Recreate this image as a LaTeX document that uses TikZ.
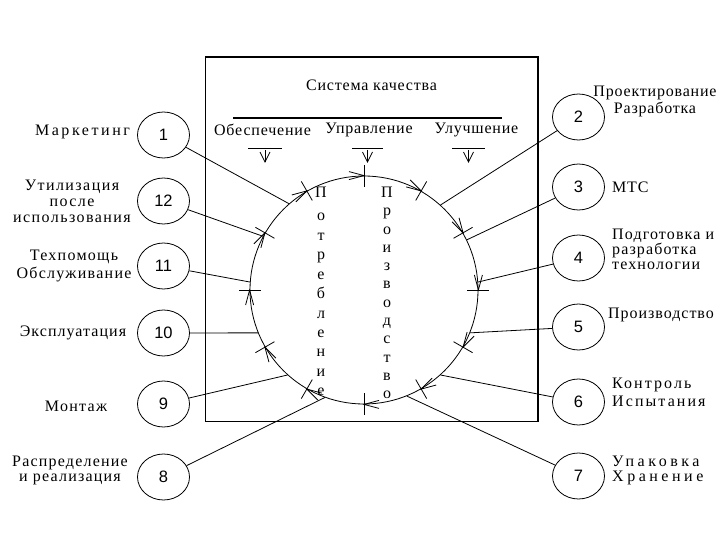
\documentclass[tikz,border=0pt]{standalone}
\usepackage{fontspec}
\setmainfont[LetterSpace=5]{Liberation Serif}
\newfontfamily\numfont{Liberation Sans}
\usetikzlibrary{shapes.geometric}
\begin{document}
\begin{tikzpicture}[x=1pt,y=-1pt,
  thinline/.style={line width=0.8pt},
  numcirc/.style={draw, ellipse, minimum width=52pt, minimum height=46pt, inner sep=0pt, line width=0.8pt, font=\numfont\fontsize{16.5}{16}\selectfont},
  lbl/.style={font=\fontsize{16}{16}\selectfont, align=center, inner sep=0pt},
  lsl/.style 2 args={lbl, font={\fontsize{16}{#1}\selectfont\addfontfeatures{LetterSpace=#2}}},
  rlbl/.style={lbl, align=left, anchor=west},
  vlet/.style={font=\fontsize{16}{16}\selectfont, inner sep=0pt, anchor=base},
]
\useasboundingbox (0,0) rectangle (720,540);
\fill[white] (0,0) rectangle (720,540);
% frame
\draw[line width=1.2pt] (205.5,57) rectangle (538,421.5);
% big circle
\node[draw, circle, minimum size=228pt, inner sep=0pt, thinline] (C) at (364,290) {};
\foreach \a in {90,60,30,0,330,300,270,240,210,180,150,120} {
  \begin{scope}[shift={(C.\a)}, rotate=\a]
    \draw[thinline] (-11pt,0pt) -- (11pt,0pt);
    \draw[thinline] (-4pt,15pt) -- (0pt,0pt) -- (4pt,15pt);
  \end{scope}
}
% numbered circles
\node[numcirc] (n1)  at (163.5,135) {1};
\node[numcirc] (n12) at (163.5,201) {12};
\node[numcirc] (n11) at (163.5,266) {11};
\node[numcirc] (n10) at (163.5,333) {10};
\node[numcirc] (n9)  at (163.5,404) {9};
\node[numcirc] (n8)  at (163.5,477) {8};
\node[numcirc] (n2)  at (578.5,117) {2};
\node[numcirc] (n3)  at (578.5,187) {3};
\node[numcirc] (n4)  at (578.5,258) {4};
\node[numcirc] (n5)  at (578.5,327) {5};
\node[numcirc] (n6)  at (578.5,402) {6};
\node[numcirc] (n7)  at (578.5,476) {7};
% connectors
\draw[thinline] (n1) -- (C.131);
\draw[thinline] (n12) -- (C.152);
\draw[thinline] (n11) -- (C.176);
\draw[thinline] (n10) -- (C.202);
\draw[thinline] (n9) -- (C.228);
\draw[thinline] (n8) -- (C.250);
\draw[thinline] (n2) -- (C.48);
\draw[thinline] (n3) -- (C.26);
\draw[thinline] (n4) -- (C.4);
\draw[thinline] (n5) -- (C.338);
\draw[thinline] (n6) -- (C.312);
\draw[thinline] (n7) -- (C.292);
% left labels
\node[lsl={16}{16}] (l1) at (82.5,132) {Маркетинг};
\node[lsl={16}{9}] (l12) at (72,201) {Утилизация\\после\\использования};
\node[lsl={18}{8}] (l11) at (74,266) {Техпомощь\\Обслуживание};
\node[lsl={16}{6.5}] (l10) at (73,333) {Эксплуатация};
\node[lsl={16}{8}] (l9) at (76,406) {Монтаж};
\node[lsl={15}{7.5}] (l8) at (70,470) {Распределение\\и реализация};
% right labels
\node[lsl={17}{5}] (l2) at (655,101.5) {Проектирование\\Разработка};
\node[rlbl] (l3) at (612,187) {МТС};
\node[rlbl, lsl={15}{7}, align=left] (l4) at (612,249) {Подготовка и\\разработка\\технологии};
\node[rlbl, lsl={16}{6}, align=left] (l5) at (608,315) {Производство};
\node[rlbl, lsl={18}{13}, align=left] (l6) at (612,392) {Контроль\\Испытания};
\node[rlbl, lsl={15}{22}, align=left] (l7) at (612,470) {Упаковка\\Хранение};
% top of frame
\node[lbl] (sk) at (371.5,85) {Система качества};
\draw[line width=1.6pt] (233,118) -- (502,118);
\node[lbl] (ob) at (262.5,130) {Обеспечение};
\node[lbl] (up) at (369,130) {Управление};
\node[lbl] (ul) at (476.5,130) {Улучшение};
\foreach \x/\w in {265/17, 367.5/15.5, 468.5/16.5} {
  \draw[thinline] (\x-\w,148) -- (\x+\w,148);
  \draw[thinline] (\x,150) -- (\x,162);
  \draw[thinline] (\x-5,152) -- (\x,162) -- (\x+5,152);
}
% vertical words
\node[vlet] (pa0) at (321,198) {П};
\foreach \ch [count=\i from 0] in {о,т,р,е,б,л,е,н,и,е}
  \node[vlet] (pa\i) at (321,221+19.4*\i) {\ch};
\node[vlet] (pb0) at (387,198) {П};
\foreach \ch [count=\i from 0] in {р,о,и,з,в,о,д,с,т,в,о}
  \node[vlet] (pb\i) at (387,215.7+18.3*\i) {\ch};
\end{tikzpicture}
\end{document}
